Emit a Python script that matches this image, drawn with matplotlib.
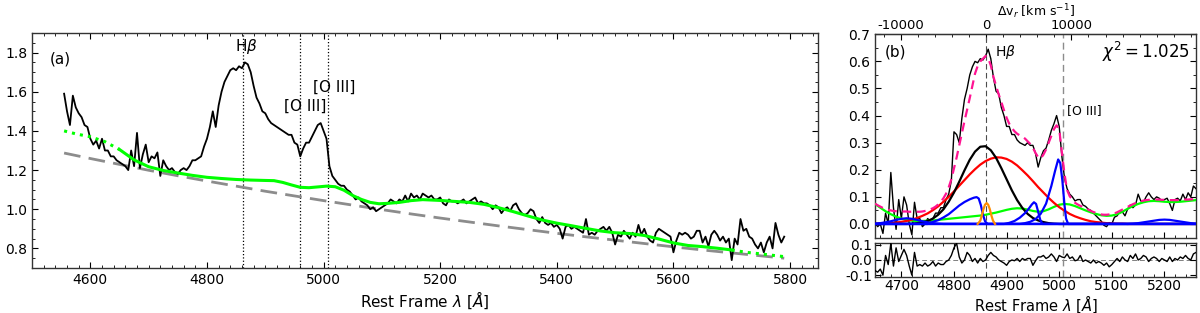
import numpy as np
import matplotlib
matplotlib.use('Agg')
import matplotlib.pyplot as plt
from matplotlib.ticker import MultipleLocator, FormatStrFormatter

C_KMS = 299792.458
HBETA = 4861.0
OIII_B = 4959.0
OIII_R = 5007.0

# ---------------- panel (a): observed spectrum, 5 A grid ----------------
wave_a = np.arange(4555, 5791, 5)
flux_a = [
    1.59, 1.50, 1.43, 1.58, 1.52, 1.49, 1.47, 1.43, 1.42, 1.36,
    1.33, 1.35, 1.31, 1.36, 1.30, 1.30, 1.27, 1.27, 1.25, 1.24,
    1.23, 1.22, 1.20, 1.30, 1.22, 1.39, 1.21, 1.28, 1.33, 1.24,
    1.27, 1.26, 1.29, 1.17, 1.25, 1.22, 1.20, 1.21, 1.19, 1.18,
    1.20, 1.21, 1.20, 1.22, 1.25, 1.25, 1.26, 1.27, 1.32, 1.36,
    1.42, 1.50, 1.42, 1.53, 1.60, 1.65, 1.68, 1.71, 1.72, 1.71,
    1.73, 1.72, 1.75, 1.74, 1.70, 1.63, 1.57, 1.54, 1.50, 1.49,
    1.46, 1.44, 1.43, 1.42, 1.41, 1.40, 1.39, 1.38, 1.38, 1.34,
    1.33, 1.27, 1.31, 1.34, 1.34, 1.37, 1.40, 1.43, 1.44, 1.40,
    1.36, 1.22, 1.17, 1.15, 1.13, 1.12, 1.12, 1.10, 1.09, 1.07,
    1.05, 1.06, 1.04, 1.03, 1.02, 1.00, 1.01, 0.99, 1.00, 1.01,
    1.02, 1.03, 1.05, 1.04, 1.03, 1.05, 1.04, 1.07, 1.04, 1.08,
    1.06, 1.07, 1.05, 1.08, 1.07, 1.06, 1.07, 1.05, 1.05, 1.06,
    1.03, 1.02, 1.05, 1.04, 1.04, 1.03, 1.04, 1.05, 1.03, 1.04,
    1.05, 1.06, 1.03, 1.04, 1.03, 1.03, 1.02, 1.00, 1.02, 1.01,
    0.98, 1.00, 1.01, 0.99, 1.02, 1.03, 1.00, 0.98, 0.97, 0.98,
    1.00, 0.99, 0.95, 0.93, 0.96, 0.93, 0.92, 0.93, 0.91, 0.92,
    0.90, 0.85, 0.91, 0.92, 0.90, 0.91, 0.90, 0.89, 0.88, 0.95,
    0.87, 0.88, 0.87, 0.89, 0.90, 0.91, 0.89, 0.91, 0.88, 0.82,
    0.87, 0.86, 0.89, 0.87, 0.85, 0.88, 0.86, 0.92, 0.87, 0.90,
    0.86, 0.84, 0.83, 0.88, 0.90, 0.89, 0.88, 0.87, 0.86, 0.78,
    0.84, 0.88, 0.87, 0.88, 0.87, 0.85, 0.86, 0.89, 0.89, 0.83,
    0.86, 0.81, 0.87, 0.89, 0.87, 0.84, 0.86, 0.83, 0.85, 0.74,
    0.85, 0.82, 0.95, 0.89, 0.90, 0.86, 0.85, 0.82, 0.80, 0.83,
    0.78, 0.83, 0.86, 0.80, 0.93, 0.87, 0.83, 0.86,
]

# host + FeII model (green) and power-law continuum (grey dashed)
green_wave_a = [4555, 4575, 4600, 4625, 4650, 4675, 4700, 4725, 4750, 4775,
                4800, 4825, 4850, 4875, 4900, 4915, 4930, 4945, 4960, 4975,
                4990, 5005, 5020, 5035, 5050, 5065, 5080, 5095, 5110, 5130,
                5150, 5170, 5200, 5225, 5250, 5275, 5300, 5325, 5350, 5375,
                5400, 5425, 5450, 5475, 5500, 5525, 5550, 5575, 5600, 5625,
                5650, 5675, 5700, 5725, 5750, 5775, 5790]
green_flux_a = [1.400, 1.385, 1.370, 1.345, 1.305, 1.252, 1.217, 1.198, 1.185, 1.173,
                1.163, 1.157, 1.152, 1.149, 1.147, 1.146, 1.137, 1.124, 1.112, 1.110,
                1.114, 1.118, 1.115, 1.097, 1.070, 1.050, 1.035, 1.028, 1.030, 1.035,
                1.044, 1.049, 1.045, 1.040, 1.035, 1.025, 1.008, 0.988, 0.966, 0.945,
                0.929, 0.916, 0.902, 0.889, 0.880, 0.876, 0.866, 0.848, 0.828, 0.815,
                0.809, 0.801, 0.792, 0.780, 0.772, 0.763, 0.758]
fit_range_a = (4650, 5700)

pl_wave = [4555, 4600, 4650, 4700, 4750, 4800, 4850, 4900, 4950, 5000,
           5050, 5100, 5150, 5200, 5250, 5300, 5350, 5400, 5450, 5500,
           5550, 5600, 5650, 5700, 5750, 5790]
pl_flux = [1.287, 1.259, 1.229, 1.199, 1.171, 1.144, 1.118, 1.092, 1.068, 1.044,
           1.021, 0.998, 0.976, 0.955, 0.935, 0.915, 0.896, 0.877, 0.859, 0.842,
           0.825, 0.808, 0.792, 0.777, 0.762, 0.750]

# ---------------- panel (b): continuum-subtracted Hbeta region ----------------
wave_b = np.arange(4650, 5261, 5)
flux_b = [
    0.005, -0.01, 0.00, -0.035, 0.04, 0.00, 0.19, 0.06, -0.02, 0.09,
    0.02, 0.10, 0.07, 0.00, -0.04, 0.08, 0.02, 0.02, -0.01, 0.00,
    0.02, 0.01, 0.02, 0.04, 0.04, 0.06, 0.06, 0.09, 0.11, 0.16,
    0.34, 0.33, 0.30, 0.39, 0.46, 0.50, 0.55, 0.58, 0.60, 0.595,
    0.61, 0.605, 0.62, 0.645, 0.61, 0.54, 0.49, 0.48, 0.43, 0.40,
    0.36, 0.36, 0.33, 0.33, 0.31, 0.30, 0.295, 0.29, 0.30, 0.29,
    0.29, 0.26, 0.21, 0.245, 0.27, 0.28, 0.31, 0.345, 0.37, 0.40,
    0.36, 0.25, 0.17, 0.13, 0.11, 0.10, 0.085, 0.09, 0.09, 0.07,
    0.065, 0.055, 0.05, 0.04, 0.03, 0.02, 0.01, -0.005, -0.01, 0.005,
    0.00, 0.025, 0.03, 0.045, 0.045, 0.03, 0.055, 0.07, 0.06, 0.07,
    0.11, 0.085, 0.08, 0.10, 0.115, 0.10, 0.09, 0.10, 0.095, 0.085,
    0.09, 0.095, 0.075, 0.05, 0.09, 0.095, 0.085, 0.11, 0.09, 0.115,
    0.10, 0.14, 0.13,
]
total_b = [
    0.075, 0.069, 0.064, 0.059, 0.055, 0.052, 0.050, 0.048, 0.047, 0.046,
    0.046, 0.046, 0.046, 0.045, 0.045, 0.045, 0.045, 0.045, 0.046, 0.048,
    0.050, 0.054, 0.058, 0.064, 0.072, 0.082, 0.095, 0.112, 0.135, 0.165,
    0.205, 0.245, 0.290, 0.335, 0.380, 0.422, 0.465, 0.510, 0.555, 0.583,
    0.600, 0.610, 0.620, 0.612, 0.585, 0.543, 0.510, 0.478, 0.450, 0.420,
    0.392, 0.370, 0.354, 0.342, 0.333, 0.327, 0.322, 0.315, 0.305, 0.295,
    0.281, 0.262, 0.246, 0.242, 0.256, 0.275, 0.300, 0.325, 0.350, 0.364,
    0.350, 0.265, 0.185, 0.125, 0.102, 0.090, 0.078, 0.072, 0.067, 0.062,
    0.058, 0.053, 0.048, 0.044, 0.041, 0.038, 0.035, 0.034, 0.034, 0.035,
    0.036, 0.039, 0.043, 0.048, 0.053, 0.058, 0.063, 0.068, 0.073, 0.077,
    0.081, 0.084, 0.086, 0.088, 0.089, 0.090, 0.090, 0.090, 0.090, 0.089,
    0.089, 0.088, 0.088, 0.088, 0.088, 0.088, 0.089, 0.089, 0.090, 0.090,
    0.091, 0.091, 0.092,
]
resid_b = [
    -0.07, -0.08, -0.06, -0.10, 0.03, -0.03, 0.11, -0.04, 0.08, -0.01,
    0.03, 0.07, 0.03, -0.04, -0.10, 0.05, -0.04, -0.03, -0.04, -0.02,
    -0.04, -0.03, -0.01, -0.04, -0.02, -0.03, -0.03, -0.01, 0.00, 0.03,
    0.08, 0.11, 0.02, -0.02, 0.00, 0.05, 0.03, -0.01, 0.01, -0.02,
    0.01, -0.01, 0.00, 0.03, 0.05, 0.03, 0.02, 0.00, -0.01, -0.02,
    -0.035, -0.01, 0.00, -0.005, 0.01, -0.01, 0.01, 0.00, 0.01, 0.01,
    -0.035, -0.005, 0.02, 0.02, 0.03, 0.01, 0.02, 0.04, 0.02, -0.01,
    0.03, 0.02, 0.015, 0.04, 0.01, 0.02, -0.005, 0.00, 0.03, -0.01,
    0.00, -0.01, -0.02, 0.00, -0.02, -0.01, -0.02, -0.035, -0.02, -0.045,
    -0.03, -0.01, 0.01, -0.01, 0.02, 0.00, -0.01, 0.03, 0.01, 0.04,
    0.00, 0.01, 0.03, 0.02, -0.01, 0.01, 0.02, 0.01, -0.01, 0.01,
    0.00, -0.01, 0.02, -0.01, 0.01, 0.00, 0.02, 0.01, 0.03, 0.01,
    0.00, 0.04, 0.05,
]

# fit components on a 10 A grid
comp_wave = np.arange(4650, 5261, 10)
broad_black = [
    0.0, 0.0, 0.0, 0.0, 0.0, 0.0, 0.0, 0.001, 0.003, 0.006,
    0.011, 0.020, 0.034, 0.054, 0.082, 0.116, 0.156, 0.198, 0.237, 0.267,
    0.285, 0.287, 0.272, 0.244, 0.206, 0.165, 0.124, 0.088, 0.059, 0.037,
    0.022, 0.013, 0.007, 0.003, 0.001, 0.0, 0.0, 0.0, 0.0, 0.0,
    0.0, 0.0, 0.0, 0.0, 0.0, 0.0, 0.0, 0.0, 0.0, 0.0,
    0.0, 0.0, 0.0, 0.0, 0.0, 0.0, 0.0, 0.0, 0.0, 0.0, 0.0, 0.0,
]
broad_red = [
    0.001, 0.0015, 0.002, 0.0035, 0.005, 0.008, 0.011, 0.016, 0.022, 0.030,
    0.039, 0.051, 0.065, 0.082, 0.100, 0.120, 0.141, 0.162, 0.183, 0.202,
    0.219, 0.232, 0.241, 0.246, 0.245, 0.240, 0.230, 0.216, 0.198, 0.179,
    0.158, 0.136, 0.116, 0.096, 0.078, 0.062, 0.049, 0.037, 0.028, 0.021,
    0.015, 0.010, 0.007, 0.005, 0.003, 0.002, 0.001, 0.001, 0.0, 0.0,
    0.0, 0.0, 0.0, 0.0, 0.0, 0.0, 0.0, 0.0, 0.0, 0.0, 0.0, 0.0,
]
feii_green = [
    0.074, 0.060, 0.047, 0.036, 0.027, 0.020, 0.015, 0.012, 0.011, 0.011,
    0.012, 0.013, 0.015, 0.017, 0.019, 0.021, 0.023, 0.025, 0.027, 0.029,
    0.031, 0.034, 0.038, 0.042, 0.047, 0.052, 0.056, 0.058, 0.057, 0.053,
    0.048, 0.045, 0.047, 0.054, 0.063, 0.071, 0.074, 0.072, 0.066, 0.058,
    0.050, 0.043, 0.037, 0.032, 0.030, 0.031, 0.036, 0.045, 0.056, 0.066,
    0.074, 0.080, 0.084, 0.085, 0.084, 0.082, 0.081, 0.081, 0.082, 0.084, 0.086, 0.088,
]

# narrow / other gaussian components (own sampling)
blue1_wave = [4650, 4750, 4760, 4770, 4780, 4790, 4800, 4810, 4820, 4830, 4838, 4843, 4847, 4851, 4855, 4859, 4864, 5260]
blue1_flux = [0.0, 0.0, 0.008, 0.014, 0.024, 0.036, 0.052, 0.068, 0.081, 0.091, 0.097, 0.099, 0.094, 0.070, 0.035, 0.010, 0.0, 0.0]
blue2_wave = [4650, 4895, 4905, 4915, 4925, 4935, 4942, 4948, 4952, 4956, 4960, 4964, 4968, 5260]
blue2_flux = [0.0, 0.0, 0.004, 0.011, 0.023, 0.040, 0.056, 0.072, 0.080, 0.074, 0.045, 0.015, 0.0, 0.0]
blue3_wave = [4650, 4925, 4935, 4945, 4955, 4965, 4975, 4985, 4992, 4998, 5002, 5006, 5010, 5013, 5017, 5260]
blue3_flux = [0.0, 0.0, 0.003, 0.008, 0.018, 0.038, 0.075, 0.140, 0.195, 0.238, 0.225, 0.160, 0.070, 0.020, 0.0, 0.0]
blue4_wave = [4650, 4660, 4670, 4680, 4690, 4700, 4710, 4720, 4730, 4740, 4750, 4760, 4770, 4780, 5260]
blue4_flux = [0.001, 0.003, 0.006, 0.010, 0.015, 0.019, 0.021, 0.019, 0.015, 0.010, 0.006, 0.003, 0.001, 0.0, 0.0]
blue5_wave = [4650, 5130, 5140, 5150, 5160, 5170, 5180, 5190, 5200, 5210, 5220, 5230, 5240, 5250, 5260]
blue5_flux = [0.0, 0.0, 0.001, 0.003, 0.006, 0.009, 0.012, 0.015, 0.016, 0.015, 0.012, 0.009, 0.006, 0.003, 0.001]
narrow_wave = [4845, 4850, 4853, 4856, 4859, 4862, 4865, 4868, 4871, 4874, 4878]
narrow_flux = [0.0, 0.012, 0.032, 0.055, 0.071, 0.077, 0.071, 0.055, 0.032, 0.013, 0.0]

CHI2 = 1.025
XLABEL = r'Rest Frame $\lambda$ [$\AA$]'


def style_axis(ax, top=True):
    ax.tick_params(which='both', direction='in', top=top, right=True, labelsize=10)
    ax.tick_params(which='major', length=4, width=0.8)
    ax.tick_params(which='minor', length=2, width=0.6)
    for sp in ax.spines.values():
        sp.set_linewidth(1.0)
        sp.set_color('0.2')


def lam2vel(lam):
    return (np.asarray(lam) - HBETA) / HBETA * C_KMS


def vel2lam(v):
    return HBETA * (1.0 + np.asarray(v) / C_KMS)


fig = plt.figure(figsize=(12, 3.13), dpi=100)

# ---------- panel (a) ----------
ax_a = fig.add_axes([0.0267, 0.1438, 0.655, 0.7508])
ax_a.plot(wave_a, flux_a, color='black', lw=1.3, zorder=3)

gw = np.array(green_wave_a)
gf = np.array(green_flux_a)
inside = (gw >= fit_range_a[0]) & (gw <= fit_range_a[1])
left = gw <= fit_range_a[0]
right = gw >= fit_range_a[1]
ax_a.plot(gw[inside], gf[inside], color='lime', lw=2.2, zorder=4)
ax_a.plot(gw[left], gf[left], color='lime', lw=2.2, ls=':', zorder=4)
ax_a.plot(gw[right], gf[right], color='lime', lw=2.2, ls=':', zorder=4)
ax_a.plot(pl_wave, pl_flux, color='0.55', lw=2, ls=(0, (6, 3)), zorder=2)

for lam in (HBETA, OIII_B, OIII_R):
    ax_a.axvline(lam, color='black', ls=':', lw=0.9, zorder=1)

ax_a.text(4867, 1.83, r'H$\beta$', ha='center', va='center', fontsize=11)
ax_a.text(4969, 1.525, '[O III]', ha='center', va='center', fontsize=11)
ax_a.text(5019, 1.625, '[O III]', ha='center', va='center', fontsize=11)
ax_a.text(0.022, 0.89, '(a)', transform=ax_a.transAxes, ha='left', va='center', fontsize=11)

ax_a.set_xlim(4500, 5848)
ax_a.set_ylim(0.7, 1.9)
ax_a.xaxis.set_major_locator(MultipleLocator(200))
ax_a.xaxis.set_minor_locator(MultipleLocator(20))
ax_a.yaxis.set_major_locator(MultipleLocator(0.2))
ax_a.yaxis.set_minor_locator(MultipleLocator(0.05))
ax_a.yaxis.set_major_formatter(FormatStrFormatter('%.1f'))
ax_a.set_xlabel(XLABEL, fontsize=11, labelpad=2)
style_axis(ax_a)

# ---------- panel (b) ----------
ax_b = fig.add_axes([0.7292, 0.2412, 0.2675, 0.6492])
ax_b.plot(wave_b, flux_b, color='black', lw=1.0, zorder=3)
ax_b.plot(comp_wave, feii_green, color='lime', lw=1.6, zorder=4)
ax_b.plot(comp_wave, broad_red, color='red', lw=1.6, zorder=4)
ax_b.plot(comp_wave, broad_black, color='black', lw=1.6, zorder=4)
for bw, bf in ((blue4_wave, blue4_flux), (blue1_wave, blue1_flux), (blue2_wave, blue2_flux),
               (blue3_wave, blue3_flux), (blue5_wave, blue5_flux)):
    ax_b.plot(bw, bf, color='blue', lw=1.6, zorder=5)
ax_b.plot(narrow_wave, narrow_flux, color='darkorange', lw=1.6, zorder=5)
ax_b.plot(wave_b, total_b, color='#ff1493', lw=1.6, ls=(0, (4, 2.5)), zorder=6)

ax_b.axvline(HBETA, color='0.3', ls=(0, (5, 3)), lw=0.8, zorder=1)
ax_b.axvline(OIII_R, color='0.55', ls=(0, (5, 3)), lw=1.0, zorder=1)
ax_b.text(4878, 0.636, r'H$\beta$', ha='left', va='center', fontsize=10)
ax_b.text(5014, 0.417, '[O III]', ha='left', va='center', fontsize=9)
ax_b.text(0.03, 0.914, '(b)', transform=ax_b.transAxes, ha='left', va='center', fontsize=11)
ax_b.text(0.98, 0.915, r'$\chi^2 = %.3f$' % CHI2, transform=ax_b.transAxes,
          ha='right', va='center', fontsize=12)

ax_b.set_xlim(4650, 5260)
ax_b.set_ylim(-0.05, 0.7)
ax_b.xaxis.set_major_locator(MultipleLocator(100))
ax_b.xaxis.set_minor_locator(MultipleLocator(20))
ax_b.yaxis.set_major_locator(MultipleLocator(0.1))
ax_b.yaxis.set_minor_locator(MultipleLocator(0.05))
ax_b.yaxis.set_major_formatter(FormatStrFormatter('%.1f'))
style_axis(ax_b, top=False)
ax_b.tick_params(labelbottom=False)

secax = ax_b.secondary_xaxis('top', functions=(lam2vel, vel2lam))
secax.set_xticks([-10000, 0, 10000])
secax.set_xticklabels(['-10000', '0', '10000'])
secax.xaxis.set_minor_locator(MultipleLocator(2000))
secax.tick_params(which='both', direction='in', labelsize=9.5, pad=2)
secax.tick_params(which='major', length=4, width=0.8)
secax.tick_params(which='minor', length=2, width=0.6)
secax.set_xlabel(r'$\Delta \mathrm{v}_r$ [km s$^{-1}$]', fontsize=9, labelpad=2)

# ---------- residuals ----------
ax_r = fig.add_axes([0.7292, 0.1160, 0.2675, 0.1067], sharex=ax_b)
ax_r.plot(wave_b, resid_b, color='black', lw=1.0, zorder=3)
ax_r.axhline(0.0, color='0.5', ls=(0, (5, 3)), lw=0.7, zorder=1)
ax_r.axvline(HBETA, color='0.3', ls=(0, (5, 3)), lw=0.8, zorder=1)
ax_r.axvline(OIII_R, color='0.55', ls=(0, (5, 3)), lw=1.0, zorder=1)
ax_r.set_ylim(-0.11, 0.11)
ax_r.set_yticks([-0.1, 0.0, 0.1])
ax_r.yaxis.set_major_formatter(FormatStrFormatter('%.1f'))
style_axis(ax_r)
ax_r.tick_params(labelbottom=True, pad=2)
ax_r.set_xlabel(XLABEL, fontsize=10.5, labelpad=0)

fig.savefig('out.png', dpi=100)
